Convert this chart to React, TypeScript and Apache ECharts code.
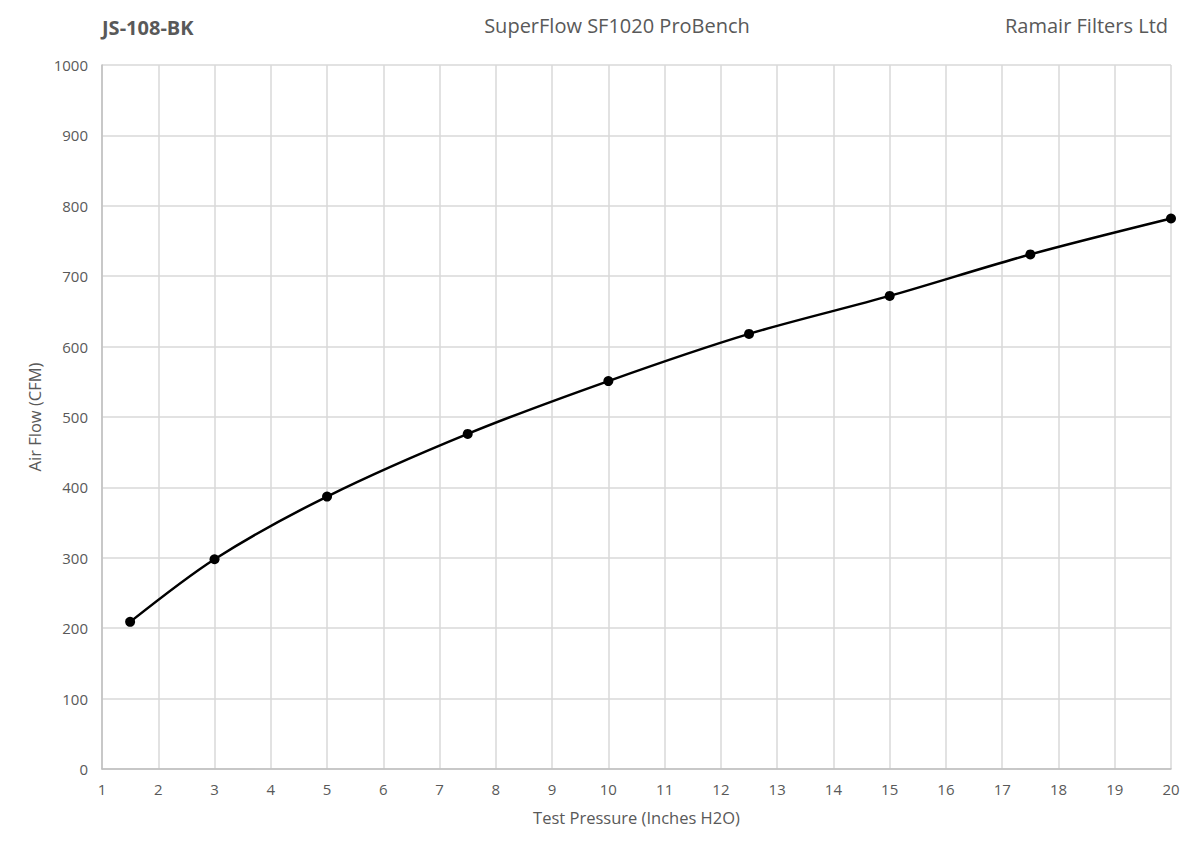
import React, { useEffect, useRef } from "react";
import * as echarts from "echarts";

const pressures = [1.5, 3, 5, 7.5, 10, 12.5, 15, 17.5, 20];
const airflow = [209, 298, 387, 476, 551, 618, 672, 731, 782];
const titleLeft = "JS-108-BK";
const titleCenter = "SuperFlow SF1020 ProBench";
const titleRight = "Ramair Filters Ltd";
const xName = "Test Pressure (Inches H2O)";
const yName = "Air Flow (CFM)";

const FONT = "Open Sans";

export default function App() {
  const ref = useRef<HTMLDivElement>(null);
  useEffect(() => {
    const chart = echarts.init(ref.current!, null, { renderer: "svg" });
    chart.setOption({
      animation: false,
      backgroundColor: "#ffffff",
      textStyle: { fontFamily: FONT },
      title: [
        { text: titleLeft, left: 102, top: 17, padding: 0, textStyle: { fontFamily: FONT, fontSize: 20, fontWeight: "bold", color: "#595959" } },
        { text: titleCenter, left: 617, textAlign: "center", top: 15, padding: 0, textStyle: { fontFamily: FONT, fontSize: 20, fontWeight: "normal", color: "#595959" } },
        { text: titleRight, right: 32, top: 15, padding: 0, textStyle: { fontFamily: FONT, fontSize: 20, fontWeight: "normal", color: "#595959" } },
      ],
      grid: { left: 102, right: 29, top: 65, bottom: 85, containLabel: false },
      xAxis: {
        type: "value",
        min: 1,
        max: 20,
        interval: 1,
        name: xName,
        nameLocation: "middle",
        nameGap: 40,
        nameTextStyle: { fontFamily: FONT, fontSize: 16.5, color: "#595959" },
        axisLine: { show: true, lineStyle: { color: "#bfbfbf", width: 1.5 } },
        axisTick: { show: false },
        axisLabel: { fontFamily: FONT, fontSize: 15, color: "#595959", margin: 12 },
        splitLine: { show: true, lineStyle: { color: "#d9d9d9", width: 1.5 } },
      },
      yAxis: {
        type: "value",
        min: 0,
        max: 1000,
        interval: 100,
        name: yName,
        nameLocation: "middle",
        nameGap: 59,
        nameRotate: 90,
        nameTextStyle: { fontFamily: FONT, fontSize: 16.5, color: "#595959" },
        axisLine: { show: true, lineStyle: { color: "#bfbfbf", width: 1.5 } },
        axisTick: { show: false },
        axisLabel: { fontFamily: FONT, fontSize: 15, color: "#595959", margin: 14, formatter: (v: number) => String(v) },
        splitLine: { show: true, lineStyle: { color: "#d9d9d9", width: 1.5 } },
      },
      series: [
        {
          type: "line",
          data: pressures.map((p, i) => [p, airflow[i]]),
          smooth: 0.3,
          symbol: "circle",
          symbolSize: 10,
          itemStyle: { color: "#000000" },
          lineStyle: { color: "#000000", width: 2.5 },
        },
      ],
    });
    return () => chart.dispose();
  }, []);
  return <div ref={ref} style={{ width: 1200, height: 854, position: "absolute", left: 0, top: 0 }} />;
}
